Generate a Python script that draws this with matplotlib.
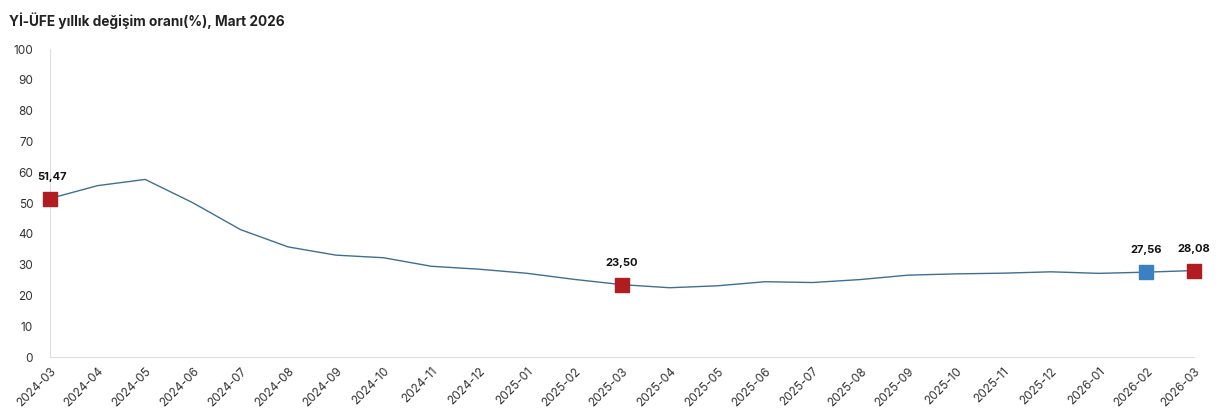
import numpy as np
import matplotlib.pyplot as plt

plt.rcParams['font.family'] = ['Inter', 'DejaVu Sans']

# Data
months = ['2024-03', '2024-04', '2024-05', '2024-06', '2024-07', '2024-08', '2024-09',
          '2024-10', '2024-11', '2024-12', '2025-01', '2025-02', '2025-03', '2025-04',
          '2025-05', '2025-06', '2025-07', '2025-08', '2025-09', '2025-10', '2025-11',
          '2025-12', '2026-01', '2026-02', '2026-03']
values = [51.47, 55.66, 57.68, 50.09, 41.37, 35.75, 33.09, 32.24, 29.47, 28.52, 27.20,
          25.21, 23.50, 22.50, 23.13, 24.45, 24.19, 25.16, 26.59, 27.00, 27.23, 27.67,
          27.17, 27.56, 28.08]
red_idx = [0, 12, 24]
blue_idx = [23]

x = np.arange(len(months))

fig = plt.figure(figsize=(12.16, 4.2), dpi=100)
ax = fig.add_axes([0.041, 0.15, 0.941, 0.733])

ax.plot(x, values, color='#3e6f93', linewidth=1.0, zorder=2)
ax.scatter(x[red_idx], [values[i] for i in red_idx], marker='s', s=110,
           color='#b01c1f', zorder=3, clip_on=False)
ax.scatter(x[blue_idx], [values[i] for i in blue_idx], marker='s', s=110,
           color='#3a80c2', zorder=3, clip_on=False)

# Labels
for i in red_idx + blue_idx:
    lbl = f'{values[i]:.2f}'.replace('.', ',')
    if i == 0:
        ax.annotate(lbl, (x[i], values[i]), xytext=(-9, 12), textcoords='offset points',
                    ha='left', va='bottom', fontsize=8, fontweight='bold', color='#111111')
    else:
        ax.annotate(lbl, (x[i], values[i]), xytext=(0, 12), textcoords='offset points',
                    ha='center', va='bottom', fontsize=8, fontweight='bold', color='#111111')

ax.set_xlim(0, 24)
ax.set_ylim(0, 100)
ax.set_yticks(np.arange(0, 101, 10))
ax.set_xticks(x)
ax.set_xticklabels(months, rotation=45, ha='right', rotation_mode='anchor')
ax.tick_params(axis='both', length=0, labelsize=8.5, colors='#333333')
ax.tick_params(axis='y', pad=12)
ax.tick_params(axis='x', pad=6)

for s in ['top', 'right']:
    ax.spines[s].set_visible(False)
ax.spines['left'].set_color('#dddddd')
ax.spines['bottom'].set_color('#dddddd')

fig.text(0.007, 0.95, 'Yİ-ÜFE yıllık değişim oranı(%), Mart 2026', fontsize=9.8,
         fontweight='bold', color='#222222', ha='left', va='center')

fig.savefig('out.png', dpi=100)
